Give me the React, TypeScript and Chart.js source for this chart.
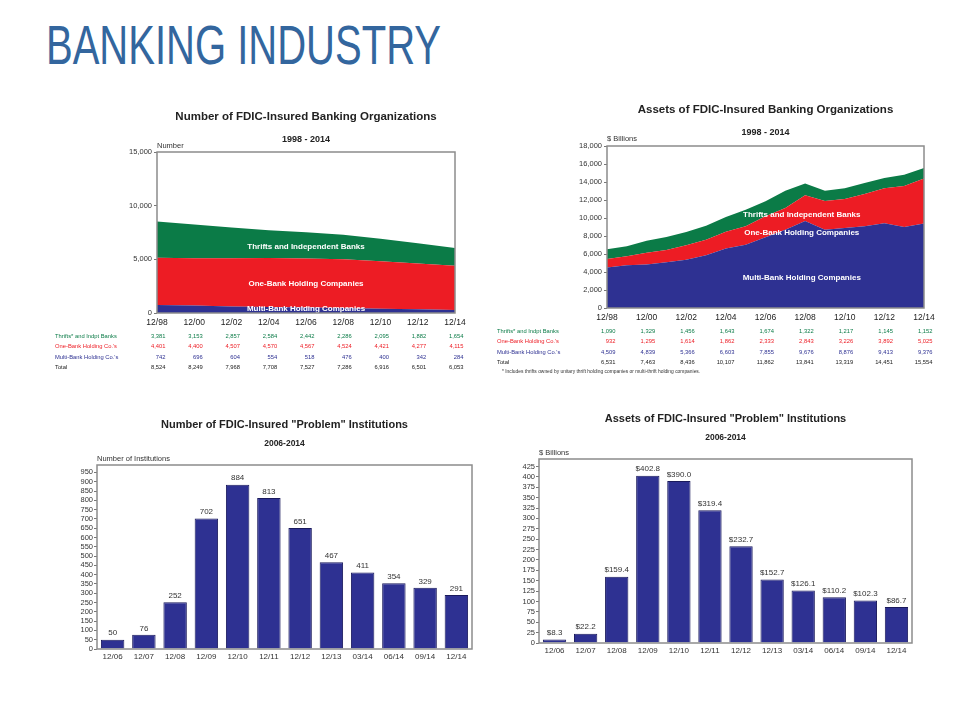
import React, { useEffect, useLayoutEffect, useRef } from "react";
import { Chart, registerables } from "chart.js";

Chart.register(...registerables);

const SANS = '"Liberation Sans", Arial, Helvetica, sans-serif';
Chart.defaults.font.family = SANS;

const GREEN = "#0b7b47";
const RED = "#ed1c24";
const BLUE = "#2e3192";
const BAR_EDGE = "#1a1a5c";

// ---------- Chart 1: Number of FDIC-Insured Banking Organizations ----------
const orgLabels = ["12/98", "12/00", "12/02", "12/04", "12/06", "12/08", "12/10", "12/12", "12/14"];
const orgThrifts = [3381, 3153, 2857, 2584, 2442, 2286, 2095, 1882, 1654];
const orgOneBank = [4401, 4400, 4507, 4570, 4567, 4524, 4421, 4277, 4115];
const orgMultiBank = [742, 696, 604, 554, 518, 476, 400, 342, 284];
const orgTotal = [8524, 8249, 7968, 7708, 7527, 7286, 6916, 6501, 6053];

// ---------- Chart 2: Assets of FDIC-Insured Banking Organizations ($ Billions) ----------
const assetLabels = [
  "12/98", "12/99", "12/00", "12/01", "12/02", "12/03", "12/04", "12/05", "12/06",
  "12/07", "12/08", "12/09", "12/10", "12/11", "12/12", "12/13", "12/14",
];
const assetMultiBank = [4509, 4740, 4839, 5070, 5366, 5850, 6603, 7040, 7855, 8700, 9676, 8700, 8876, 9070, 9413, 9000, 9376];
const assetOneBank = [932, 1000, 1295, 1370, 1614, 1740, 1862, 2030, 2333, 2410, 2843, 3200, 3226, 3600, 3892, 4560, 5025];
const assetThrifts = [1090, 1110, 1329, 1450, 1456, 1560, 1643, 1850, 1674, 1930, 1322, 1140, 1217, 1220, 1145, 1250, 1152];

const assetTableThrifts = [1090, 1329, 1456, 1643, 1674, 1322, 1217, 1145, 1152];
const assetTableOneBank = [932, 1295, 1614, 1862, 2333, 2843, 3226, 3892, 5025];
const assetTableMultiBank = [4509, 4839, 5366, 6603, 7855, 9676, 8876, 9413, 9376];
const assetTableTotal = [6531, 7463, 8436, 10107, 11862, 13841, 13319, 14451, 15554];

// ---------- Charts 3 & 4: "Problem" institutions ----------
const problemLabels = ["12/06", "12/07", "12/08", "12/09", "12/10", "12/11", "12/12", "12/13", "03/14", "06/14", "09/14", "12/14"];
const problemCount = [50, 76, 252, 702, 884, 813, 651, 467, 411, 354, 329, 291];
const problemAssets = [8.3, 22.2, 159.4, 402.8, 390.0, 319.4, 232.7, 152.7, 126.1, 110.2, 102.3, 86.7];

const rowNames = ["Thrifts* and Indpt Banks", "One-Bank Holding Co.'s", "Multi-Bank Holding Co.'s", "Total"];
const footnote = "* Includes thrifts owned by unitary thrift holding companies or multi-thrift holding companies.";

const TABLE_ROW_DY = [23, 33.6, 44.2, 54.5];

type Heading = {
  title: string;
  subtitle: string;
  axisTitle: string;
  titleSize: number;
  subSize: number;
  titleDy: number;
  subDy: number;
  axisDy: number;
};

function headingPlugin(h: Heading) {
  return {
    id: "headings",
    afterDraw(chart: any) {
      const { ctx, chartArea: a } = chart;
      const cx = (a.left + a.right) / 2;
      ctx.save();
      // frame
      ctx.strokeStyle = "#8c8c8c";
      ctx.lineWidth = 1.5;
      ctx.strokeRect(a.left, a.top, a.right - a.left, a.bottom - a.top);
      ctx.textBaseline = "middle";
      ctx.fillStyle = "#222";
      ctx.textAlign = "center";
      ctx.font = `bold ${h.titleSize}px ${SANS}`;
      ctx.fillText(h.title, cx, a.top + h.titleDy);
      ctx.font = `bold ${h.subSize}px ${SANS}`;
      ctx.fillText(h.subtitle, cx, a.top + h.subDy);
      ctx.textAlign = "left";
      ctx.fillStyle = "#333";
      ctx.font = `7.5px ${SANS}`;
      ctx.fillText(h.axisTitle, a.left, a.top + h.axisDy);
      ctx.restore();
    },
  };
}

type Row = { name: string; values: number[]; color: string };

function tablePlugin(rows: Row[], indexStep: number, labelDx: number, note?: string) {
  return {
    id: "table",
    afterDraw(chart: any) {
      const { ctx, chartArea: a, scales } = chart;
      const x = scales.x;
      ctx.save();
      ctx.textBaseline = "middle";
      ctx.font = `5.8px ${SANS}`;
      rows.forEach((r, ri) => {
        const y = a.bottom + TABLE_ROW_DY[ri];
        ctx.fillStyle = r.color;
        ctx.textAlign = "left";
        ctx.fillText(r.name, a.left + labelDx, y);
        ctx.textAlign = "right";
        r.values.forEach((v, i) => {
          ctx.fillText(v.toLocaleString("en-US"), x.getPixelForValue(i * indexStep) + 8.5, y);
        });
      });
      if (note) {
        ctx.fillStyle = "#333";
        ctx.textAlign = "left";
        ctx.font = `4.9px ${SANS}`;
        ctx.fillText(note, a.left + labelDx + 5, a.bottom + 64);
      }
      ctx.restore();
    },
  };
}

type BandLabel = { text: string; x: number; y: number };

function bandLabelPlugin(labels: BandLabel[]) {
  return {
    id: "bandLabels",
    afterDatasetsDraw(chart: any) {
      const { ctx, scales } = chart;
      ctx.save();
      ctx.fillStyle = "#ffffff";
      ctx.font = `bold 8px ${SANS}`;
      ctx.textAlign = "center";
      ctx.textBaseline = "middle";
      labels.forEach((l) => {
        ctx.fillText(l.text, scales.x.getPixelForValue(l.x), scales.y.getPixelForValue(l.y));
      });
      ctx.restore();
    },
  };
}

function barValuePlugin(fmt: (v: number) => string) {
  return {
    id: "barValues",
    afterDatasetsDraw(chart: any) {
      const { ctx } = chart;
      const meta = chart.getDatasetMeta(0);
      const data = chart.data.datasets[0].data as number[];
      ctx.save();
      ctx.fillStyle = "#333";
      ctx.font = `8px ${SANS}`;
      ctx.textAlign = "center";
      ctx.textBaseline = "bottom";
      meta.data.forEach((el: any, i: number) => {
        ctx.fillText(fmt(data[i]), el.x, el.y - 2.5);
      });
      ctx.restore();
    },
  };
}

const commaFmt = (v: any) => Number(v).toLocaleString("en-US");

function areaDatasets(multi: number[], one: number[], thrifts: number[]) {
  const base = { pointRadius: 0, borderWidth: 0, tension: 0 };
  return [
    { ...base, label: "Multi-Bank Holding Companies", data: multi, backgroundColor: BLUE, borderColor: BLUE, fill: "origin" },
    { ...base, label: "One-Bank Holding Companies", data: one, backgroundColor: RED, borderColor: RED, fill: "-1" },
    { ...base, label: "Thrifts and Independent Banks", data: thrifts, backgroundColor: GREEN, borderColor: GREEN, fill: "-1" },
  ];
}

function makeOrgChart(canvas: HTMLCanvasElement) {
  return new Chart(canvas, {
    type: "line",
    data: { labels: orgLabels, datasets: areaDatasets(orgMultiBank, orgOneBank, orgThrifts) as any },
    options: {
      responsive: false,
      animation: false,
      layout: { padding: { left: 77, right: 25, top: 57, bottom: 52 } },
      plugins: { legend: { display: false }, tooltip: { enabled: false } },
      scales: {
        x: {
          grid: { display: false, drawTicks: false },
          border: { display: false },
          ticks: { font: { size: 8.5 }, color: "#222", maxRotation: 0, autoSkip: false, padding: 5 },
          afterFit: (s: any) => { s.height = 20; },
        },
        y: {
          stacked: true,
          min: 0,
          max: 15000,
          grid: { drawOnChartArea: false, tickLength: 3, color: "#777" },
          border: { display: false },
          ticks: { stepSize: 5000, autoSkip: false, font: { size: 7.5 }, color: "#333", padding: 2, callback: commaFmt },
          afterFit: (s: any) => { s.width = 40; },
        },
      },
    },
    plugins: [
      headingPlugin({
        title: "Number of FDIC-Insured Banking Organizations",
        subtitle: "1998 - 2014",
        axisTitle: "Number",
        titleSize: 11.5,
        subSize: 9,
        titleDy: -35,
        subDy: -12.5,
        axisDy: -6,
      }),
      bandLabelPlugin([
        { text: "Thrifts and Independent Banks", x: 4, y: 6200 },
        { text: "One-Bank Holding Companies", x: 4, y: 2730 },
        { text: "Multi-Bank Holding Companies", x: 4, y: 420 },
      ]),
      tablePlugin(
        [
          { name: rowNames[0], values: orgThrifts, color: GREEN },
          { name: rowNames[1], values: orgOneBank, color: RED },
          { name: rowNames[2], values: orgMultiBank, color: BLUE },
          { name: rowNames[3], values: orgTotal, color: "#222" },
        ],
        1,
        -102
      ),
    ],
  } as any);
}

function makeAssetChart(canvas: HTMLCanvasElement) {
  return new Chart(canvas, {
    type: "line",
    data: { labels: assetLabels, datasets: areaDatasets(assetMultiBank, assetOneBank, assetThrifts) as any },
    options: {
      responsive: false,
      animation: false,
      layout: { padding: { left: 77, right: 26, top: 51, bottom: 62 } },
      plugins: { legend: { display: false }, tooltip: { enabled: false } },
      scales: {
        x: {
          grid: { display: false, drawTicks: false },
          border: { display: false },
          ticks: {
            font: { size: 8.5 },
            color: "#222",
            maxRotation: 0,
            autoSkip: false,
            padding: 5,
            callback: (_v: any, i: number) => (i % 2 === 0 ? assetLabels[i] : ""),
          },
          afterFit: (s: any) => { s.height = 20; },
        },
        y: {
          stacked: true,
          min: 0,
          max: 18000,
          grid: { drawOnChartArea: false, tickLength: 3, color: "#777" },
          border: { display: false },
          ticks: { stepSize: 2000, autoSkip: false, font: { size: 7.5 }, color: "#333", padding: 2, callback: commaFmt },
          afterFit: (s: any) => { s.width = 40; },
        },
      },
    },
    plugins: [
      headingPlugin({
        title: "Assets of FDIC-Insured Banking Organizations",
        subtitle: "1998 - 2014",
        axisTitle: "$ Billions",
        titleSize: 11.5,
        subSize: 9,
        titleDy: -36,
        subDy: -13.5,
        axisDy: -7.5,
      }),
      bandLabelPlugin([
        { text: "Thrifts and Independent Banks", x: 9.83, y: 10340 },
        { text: "One-Bank Holding Companies", x: 9.83, y: 8310 },
        { text: "Multi-Bank Holding Companies", x: 9.83, y: 3360 },
      ]),
      tablePlugin(
        [
          { name: rowNames[0], values: assetTableThrifts, color: GREEN },
          { name: rowNames[1], values: assetTableOneBank, color: RED },
          { name: rowNames[2], values: assetTableMultiBank, color: BLUE },
          { name: rowNames[3], values: assetTableTotal, color: "#222" },
        ],
        2,
        -110,
        footnote
      ),
    ],
  } as any);
}

function makeProblemChart(
  canvas: HTMLCanvasElement,
  values: number[],
  yMax: number,
  step: number,
  padding: { left: number; right: number; top: number; bottom: number },
  heading: Heading,
  fmt: (v: number) => string
) {
  return new Chart(canvas, {
    type: "bar",
    data: {
      labels: problemLabels,
      datasets: [
        {
          data: values,
          backgroundColor: BLUE,
          borderColor: BAR_EDGE,
          borderWidth: 1,
          barPercentage: 0.75,
          categoryPercentage: 1,
        },
      ],
    },
    options: {
      responsive: false,
      animation: false,
      layout: { padding },
      plugins: { legend: { display: false }, tooltip: { enabled: false } },
      scales: {
        x: {
          grid: { display: false, drawTicks: false },
          border: { display: false },
          ticks: { font: { size: 8 }, color: "#333", maxRotation: 0, autoSkip: false, padding: 3 },
          afterFit: (s: any) => { s.height = 16; },
        },
        y: {
          min: 0,
          max: yMax,
          afterBuildTicks: (s: any) => {
            const ticks: { value: number }[] = [];
            for (let v = 0; v <= yMax; v += step) ticks.push({ value: v });
            s.ticks = ticks;
          },
          grid: { drawOnChartArea: false, tickLength: 3, color: "#777" },
          border: { display: false },
          ticks: { stepSize: step, autoSkip: false, font: { size: 7.5 }, color: "#333", padding: 1 },
          afterFit: (s: any) => { s.width = 30; },
        },
      },
    },
    plugins: [headingPlugin(heading), barValuePlugin(fmt)],
  } as any);
}

type Maker = (c: HTMLCanvasElement) => Chart;

function ChartBox({ left, top, width, height, make }: { left: number; top: number; width: number; height: number; make: Maker }) {
  const ref = useRef<HTMLCanvasElement>(null);
  useEffect(() => {
    const chart = make(ref.current as HTMLCanvasElement);
    return () => chart.destroy();
  }, []);
  return (
    <canvas
      ref={ref}
      width={width}
      height={height}
      style={{ position: "absolute", left, top, width, height, display: "block" }}
    />
  );
}

function PageTitle() {
  const ref = useRef<HTMLSpanElement>(null);
  useLayoutEffect(() => {
    const el = ref.current;
    if (!el) return;
    el.style.transform = "none";
    const w = el.getBoundingClientRect().width;
    if (w > 0) el.style.transform = `scaleX(${395 / w})`;
  }, []);
  return (
    <span
      ref={ref}
      style={{
        position: "absolute",
        left: 46,
        top: 18,
        fontFamily: '"Liberation Sans Narrow", "Liberation Sans", Arial, sans-serif',
        fontSize: 55,
        lineHeight: 1,
        color: "#33669e",
        whiteSpace: "nowrap",
        transformOrigin: "left top",
        display: "inline-block",
      }}
    >
      BANKING INDUSTRY
    </span>
  );
}

export default function App() {
  return (
    <div style={{ position: "absolute", left: 0, top: 0, width: 960, height: 720, background: "#ffffff", overflow: "hidden" }}>
      <PageTitle />
      <ChartBox left={40} top={95} width={440} height={290} make={makeOrgChart} />
      <ChartBox left={490} top={95} width={460} height={295} make={makeAssetChart} />
      <ChartBox
        left={0}
        top={400}
        width={490}
        height={270}
        make={(c) =>
          makeProblemChart(
            c,
            problemCount,
            990,
            50,
            { left: 67, right: 18, top: 65, bottom: 5 },
            {
              title: 'Number of FDIC-Insured "Problem" Institutions',
              subtitle: "2006-2014",
              axisTitle: "Number of Institutions",
              titleSize: 11,
              subSize: 8.5,
              titleDy: -40,
              subDy: -21.7,
              axisDy: -6.3,
            },
            (v) => String(v)
          )
        }
      />
      <ChartBox
        left={490}
        top={395}
        width={470}
        height={275}
        make={(c) =>
          makeProblemChart(
            c,
            problemAssets,
            443,
            25,
            { left: 19, right: 48, top: 64, bottom: 11 },
            {
              title: 'Assets of FDIC-Insured "Problem" Institutions',
              subtitle: "2006-2014",
              axisTitle: "$ Billions",
              titleSize: 11,
              subSize: 8.5,
              titleDy: -40.3,
              subDy: -21,
              axisDy: -6,
            },
            (v) => "$" + v.toFixed(1)
          )
        }
      />
    </div>
  );
}
